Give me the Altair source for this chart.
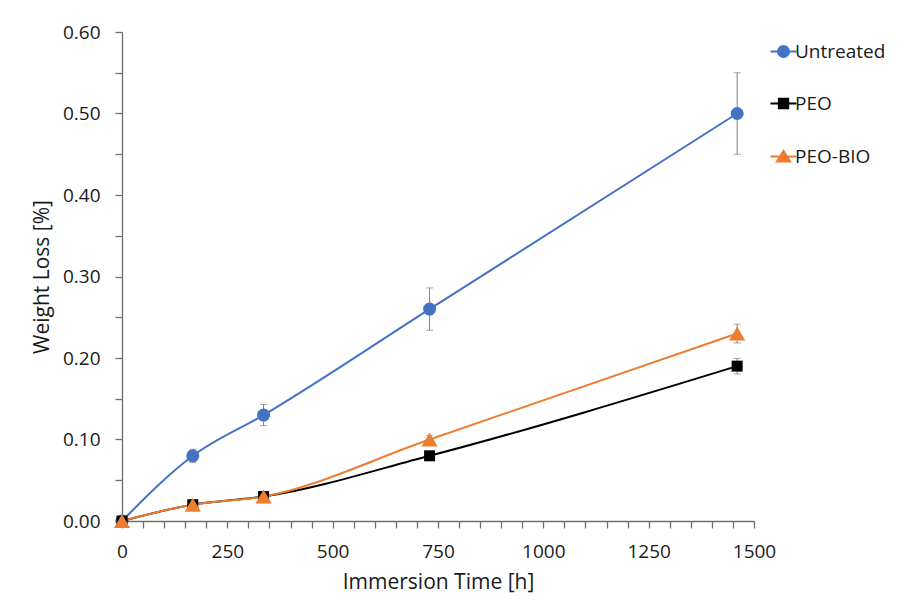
import altair as alt
import pandas as pd

# ---- data ----
times = [0, 168, 336, 730, 1460]
series_names = ["Untreated", "PEO", "PEO-BIO"]
untreated = [0.00, 0.08, 0.13, 0.26, 0.50]
untreated_err = [0.000, 0.008, 0.013, 0.026, 0.050]
peo = [0.00, 0.02, 0.03, 0.08, 0.19]
peo_err = [0.000, 0.001, 0.0015, 0.004, 0.0095]
peobio = [0.00, 0.02, 0.03, 0.10, 0.23]
peobio_err = [0.000, 0.001, 0.0015, 0.005, 0.0115]

colors = ["#4472C4", "#000000", "#ED7D31"]
shapes = ["circle", "square", "triangle-up"]
sizes = [169, 121, 260]
# legend symbols: short line with marker (unit box scaled by sqrt(size)/2)
legend_paths = [
    "M-2.17,0H2.17M0.92,0A0.92,0.92 0 1,1 -0.92,0A0.92,0.92 0 1,1 0.92,0Z",
    "M-2.17,0H2.17M-0.78,-0.78H0.78V0.78H-0.78Z",
    "M-2.17,0H2.17M0,-0.95L1.1,0.85H-1.1Z",
]

rows = []
for name, vals, errs in [("Untreated", untreated, untreated_err),
                         ("PEO", peo, peo_err),
                         ("PEO-BIO", peobio, peobio_err)]:
    for t, v, e in zip(times, vals, errs):
        rows.append({"series": name, "time": t, "loss": v, "err": e,
                     "lo": v - e, "hi": v + e})
df = pd.DataFrame(rows)

FONT = "Open Sans"
x_ticks = [float(v) for v in range(0, 1501, 50)]
y_ticks = [round(i * 0.05, 2) for i in range(13)]

x_scale = alt.Scale(domain=[0, 1500], nice=False, zero=False)
y_scale = alt.Scale(domain=[0, 0.6], nice=False)
x_axis = alt.Axis(title="Immersion Time [h]", values=x_ticks,
                  labelExpr="round(datum.value) % 250 == 0 ? format(datum.value, 'd') : ''",
                  grid=False, labelOverlap=False, labelFlush=False,
                  tickSize=7, labelPadding=14, titlePadding=10)
y_axis = alt.Axis(title="Weight Loss [%]", values=y_ticks,
                  labelExpr="round(datum.value*100) % 10 == 0 ? format(datum.value, '.2f') : ''",
                  grid=False, labelOverlap=False, labelFlush=False,
                  tickSize=7, labelPadding=15, titlePadding=10)


def X():
    return alt.X("time:Q", scale=x_scale, axis=x_axis)


def Y(field):
    return alt.Y(field + ":Q", scale=y_scale, axis=y_axis)


base = alt.Chart(df)

err_df = df[df["err"] > 0]
err_base = alt.Chart(err_df)
err_rule = err_base.mark_rule(color="#808080", strokeWidth=1).encode(
    x=X(), y=Y("lo"), y2="hi:Q")
err_lo = err_base.mark_tick(color="#808080", orient="horizontal", size=7, thickness=1).encode(
    x=X(), y=Y("lo"))
err_hi = err_base.mark_tick(color="#808080", orient="horizontal", size=7, thickness=1).encode(
    x=X(), y=Y("hi"))

layers = [err_rule, err_lo, err_hi]
for name, col in zip(series_names, colors):
    layers.append(base.transform_filter(alt.datum.series == name).mark_line(
        interpolate="monotone", strokeWidth=2, color=col).encode(
        x=X(), y=Y("loss"), order=alt.Order("time:Q")))
for name, col, shp, sz in zip(series_names, colors, shapes, sizes):
    layers.append(base.transform_filter(alt.datum.series == name).mark_point(
        filled=True, opacity=1, color=col, shape=shp, size=sz).encode(
        x=X(), y=Y("loss")))

leg = alt.Legend(title=None, orient="none", legendX=652, legendY=10,
                 symbolSize=144, symbolStrokeWidth=2, labelFont=FONT,
                 labelFontSize=19, labelColor="#1a1a1a", labelOffset=2,
                 rowPadding=32, symbolOpacity=1)
legend_layer = base.transform_filter("false").mark_point(
    filled=False, size=144, strokeWidth=2, opacity=1).encode(
    x=X(), y=Y("loss"),
    color=alt.Color("series:N", scale=alt.Scale(domain=series_names, range=colors), legend=leg),
    fill=alt.Fill("series:N", scale=alt.Scale(domain=series_names, range=colors), legend=leg),
    shape=alt.Shape("series:N", scale=alt.Scale(domain=series_names, range=legend_paths), legend=leg))
layers.append(legend_layer)

chart = alt.layer(*layers).properties(
    width=632, height=489,
    autosize=alt.AutoSizeParams(type="none"),
    padding={"left": 114, "top": 24, "right": 154, "bottom": 78},
    background="white",
).configure_view(stroke=None).configure_axis(
    domainColor="#6f6f6f", tickColor="#6f6f6f", domainWidth=1.3, tickWidth=1.3,
    labelFont=FONT, labelFontSize=19, labelColor="#1a1a1a", labelOverlap=False,
    titleFont=FONT, titleFontSize=21, titleFontWeight="normal", titleColor="#1a1a1a",
)

chart.save("out.html", embed_options={"renderer": "svg", "actions": False})
